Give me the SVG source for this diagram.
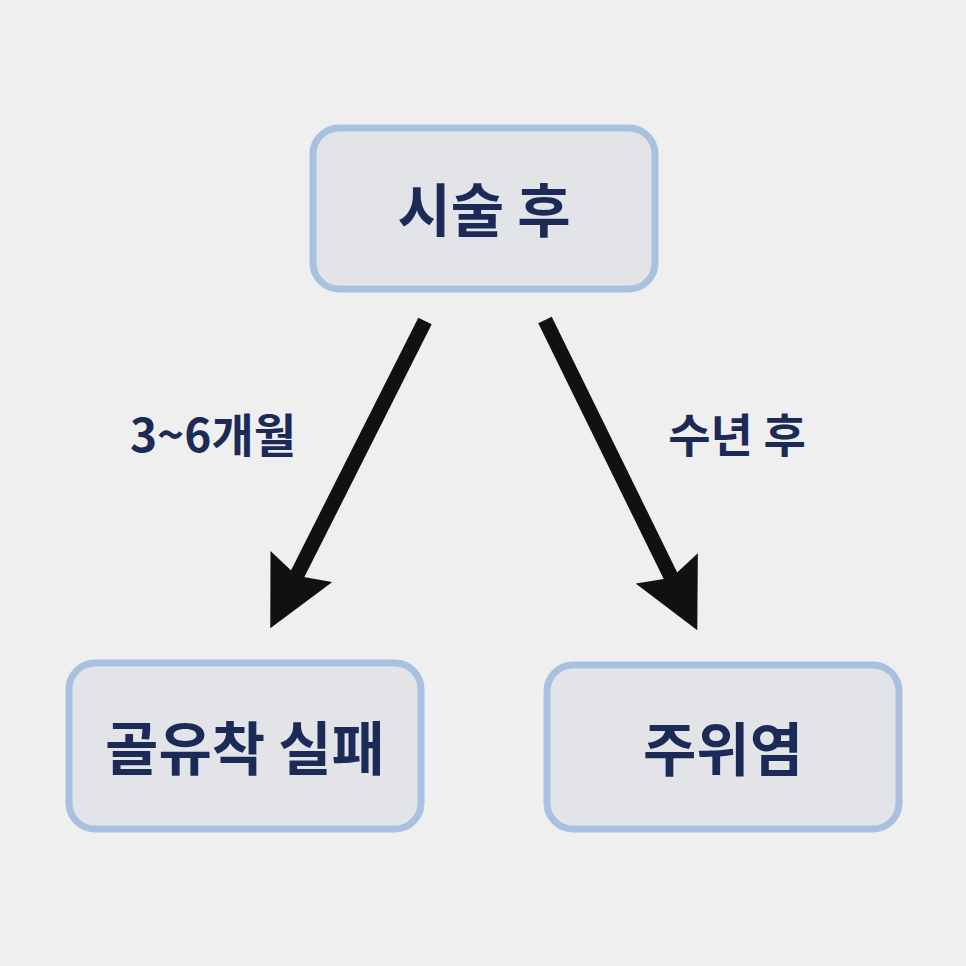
<svg xmlns="http://www.w3.org/2000/svg" width="966" height="966" viewBox="0 0 966 966">
<style>
.box{fill:#e3e4e8;stroke:#a8c1e0;stroke-width:7}
.t{font-family:"Noto Sans CJK KR","Noto Sans",sans-serif;font-weight:bold;fill:#1c2a58;text-anchor:middle}
.c{stroke:#111;stroke-width:15;fill:none}
</style>
<defs><marker id="a" viewBox="0 0 10 10" refX="3" refY="5" markerWidth="4.6" markerHeight="4.6" orient="auto" markerUnits="strokeWidth"><path d="M0,0L10,5L0,10L1.5,5z" fill="#111"/></marker></defs>
<rect width="966" height="966" fill="#efefef"/>
<g id="top"><rect class="box" x="313" y="128" width="342" height="161" rx="26"/><text class="t" x="484" y="232" font-size="58">시술 후</text></g>
<g id="left"><rect class="box" x="69" y="663" width="352" height="166" rx="26"/><text class="t" x="245" y="770" font-size="58">골유착 실패</text></g>
<g id="right"><rect class="box" x="547" y="665" width="352" height="164" rx="26"/><text class="t" x="723" y="771" font-size="58">주위염</text></g>
<g id="connectors">
<line class="c" x1="425" y1="321" x2="292" y2="585" marker-end="url(#a)"/>
<line class="c" x1="545" y1="320" x2="676" y2="587" marker-end="url(#a)"/>
<text class="t" x="213" y="452" font-size="46">3~6개월</text>
<text class="t" x="737" y="452" font-size="46">수년 후</text>
</g>
</svg>
